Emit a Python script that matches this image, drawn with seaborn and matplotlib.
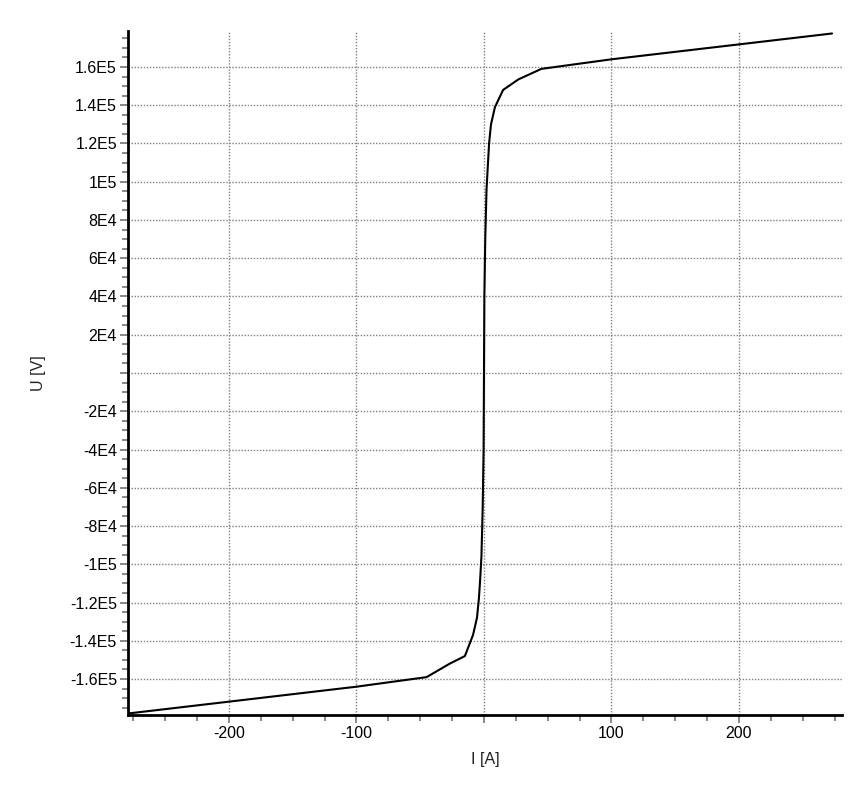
import numpy as np
import pandas as pd
import matplotlib
matplotlib.use("Agg")
import matplotlib.pyplot as plt
from matplotlib.ticker import MultipleLocator, FuncFormatter
import seaborn as sns

# V-I characteristic
current_a = [-279, -100, -45, -27, -15, -8.6, -5.5, -4, -3, -2, -1, -0.3, 0,
             0.3, 1, 2, 3, 4, 5.5, 8.6, 15, 27, 45, 100, 273]
voltage_v = [-178000, -164000, -159000, -152000, -148000, -137000, -128000,
             -118000, -108000, -96000, -70000, -40000, 0,
             40000, 70000, 96000, 108000, 120000, 130000, 139000, 148000,
             153500, 159000, 164000, 177500]

x_label = "I [A]"
y_label = "U [V]"

df = pd.DataFrame({"I": current_a, "U": voltage_v})

sns.set_theme(style="white")
plt.rcParams["font.family"] = ["Liberation Sans", "DejaVu Sans"]

fig = plt.figure(figsize=(8.67, 8.02), dpi=100)
ax = fig.add_axes([128 / 867, 87 / 802, 714 / 867, 684 / 802])

sns.lineplot(data=df, x="I", y="U", color="black", linewidth=1.5,
             estimator=None, sort=False, ax=ax)

ax.set_xlim(-279.2, 280.8)
ax.set_ylim(-178800, 178800)

ax.xaxis.set_major_locator(MultipleLocator(100))
ax.xaxis.set_minor_locator(MultipleLocator(25))
ax.yaxis.set_major_locator(MultipleLocator(20000))
ax.yaxis.set_minor_locator(MultipleLocator(5000))


def fmt_x(v, pos):
    if abs(v) < 1e-9:
        return ""
    return f"{v:.0f}"


def fmt_y(v, pos):
    if abs(v) < 1e-9:
        return ""
    s = f"{v:.1E}"
    mant, exp = s.split("E")
    mant = mant.rstrip("0").rstrip(".")
    return f"{mant}E{int(exp)}"


ax.xaxis.set_major_formatter(FuncFormatter(fmt_x))
ax.yaxis.set_major_formatter(FuncFormatter(fmt_y))

ax.grid(True, which="major", color="#808080", linestyle=(0, (1, 1.2)),
        linewidth=1.0)
ax.set_axisbelow(True)

for side in ["top", "right"]:
    ax.spines[side].set_visible(False)
for side in ["left", "bottom"]:
    ax.spines[side].set_color("black")
    ax.spines[side].set_linewidth(2.0)

ax.tick_params(which="major", direction="out", length=6, width=1.3,
               color="#808080", labelsize=11.5, labelcolor="black", pad=2,
               left=True, bottom=True)
ax.tick_params(which="minor", direction="out", length=4.5, width=1.3,
               color="#808080", left=True, bottom=True)

ax.set_xlabel(x_label, fontsize=11.5, color="#222222", labelpad=8)
ax.set_ylabel(y_label, fontsize=11.5, color="#222222", labelpad=17)

fig.savefig("out.png", dpi=100, facecolor="white")
